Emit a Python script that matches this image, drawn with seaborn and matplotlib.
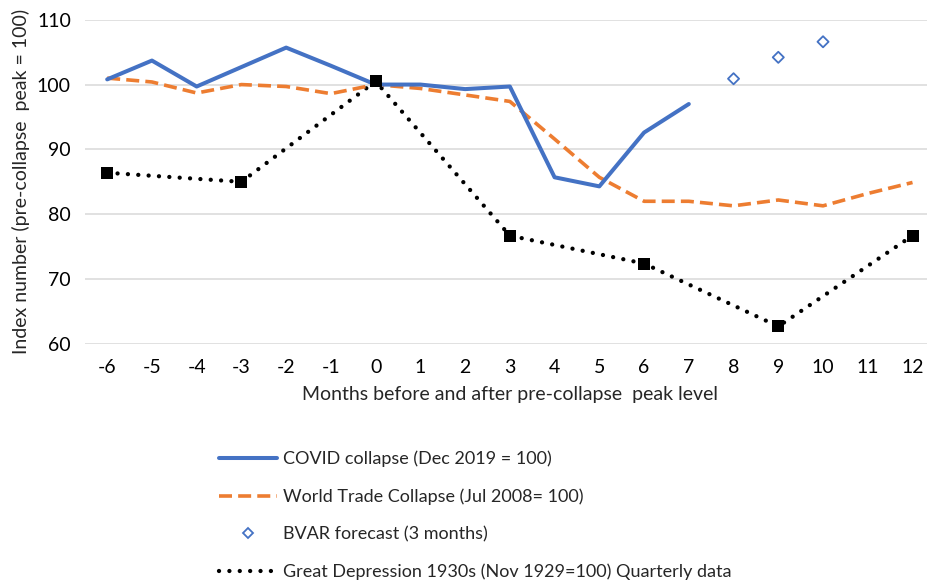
import matplotlib
matplotlib.use("Agg")
import matplotlib.pyplot as plt
import numpy as np
import pandas as pd
import seaborn as sns
from matplotlib.lines import Line2D

# months relative to the pre-collapse peak
months = list(range(-6, 13))
covid_months = list(range(-6, 8))
covid_values = [100.8, 103.7, 99.7, 102.7, 105.7, 102.9, 100.0, 100.0, 99.3, 99.7,
                85.7, 84.3, 92.6, 97.0]
wtc_values = [101.0, 100.4, 98.7, 100.0, 99.7, 98.6, 100.0, 99.4, 98.4, 97.4,
              91.6, 85.7, 82.0, 82.0, 81.3, 82.2, 81.3, 83.2, 84.9]
bvar_months = [8, 9, 10]
bvar_values = [100.9, 104.2, 106.6]
gd_months = [-6, -3, 0, 3, 6, 9, 12]
gd_values = [86.4, 85.0, 100.5, 76.7, 72.4, 62.7, 76.7]

labels = ["COVID collapse (Dec 2019 = 100)",
          "World Trade Collapse (Jul 2008= 100)",
          "BVAR forecast (3 months)",
          "Great Depression 1930s (Nov 1929=100) Quarterly data"]

BLUE = "#4472C4"
ORANGE = "#ED7D31"

sns.set_theme(style="white")
plt.rcParams["font.family"] = ["Lato", "DejaVu Sans"]
FS = 14
LFS = 13

fig = plt.figure(figsize=(9.27, 5.8), dpi=100)
ax = fig.add_axes([0.0915, 0.407, 0.917, 0.559])

covid = pd.DataFrame({"month": covid_months, "value": covid_values})
wtc = pd.DataFrame({"month": months, "value": wtc_values})
bvar = pd.DataFrame({"month": bvar_months, "value": bvar_values})
gd = pd.DataFrame({"month": gd_months, "value": gd_values})

dot_style = (0, (0.01, 2.4))
dash_style = (0, (3.6, 1.7))

sns.lineplot(data=gd, x="month", y="value", ax=ax, color="black", lw=3.1,
             linestyle=dot_style, zorder=2)
ax.lines[-1].set_dash_capstyle("round")
sns.scatterplot(data=gd, x="month", y="value", ax=ax, color="black", marker="s",
                s=75, edgecolor="black", linewidth=0, zorder=5)
sns.lineplot(data=wtc, x="month", y="value", ax=ax, color=ORANGE, lw=2.6,
             linestyle=dash_style, zorder=3)
sns.lineplot(data=covid, x="month", y="value", ax=ax, color=BLUE, lw=2.9, zorder=4)
sns.scatterplot(data=bvar, x="month", y="value", ax=ax, marker="D", s=32,
                facecolor="none", edgecolor=BLUE, linewidth=1.3, zorder=4)

ax.set_xlim(-6.5, 12.5)
ax.set_ylim(60, 110)
ax.set_xticks(months)
ax.set_xticklabels([str(m) for m in months])
ax.set_yticks(range(60, 111, 10))
ax.tick_params(axis="both", length=0, labelsize=FS, colors="black")
ax.tick_params(axis="x", pad=11)
ax.tick_params(axis="y", pad=10)
ax.grid(axis="y", color="#d9d9d9", lw=1.1)
ax.grid(axis="x", visible=False)
for s in ax.spines.values():
    s.set_visible(False)
ax.set_xlabel("Months before and after pre-collapse  peak level", fontsize=FS, labelpad=7)
ax.set_ylabel("Index number (pre-collapse  peak = 100)", fontsize=FS, labelpad=5)

handles = [
    Line2D([], [], color=BLUE, lw=2.9),
    Line2D([], [], color=ORANGE, lw=2.6, linestyle=dash_style),
    Line2D([], [], color=BLUE, lw=0, marker="D", markersize=5.5,
           markerfacecolor="none", markeredgewidth=1.3),
    Line2D([], [], color="black", lw=3.1, linestyle=dot_style, dash_capstyle="round"),
]
fig.legend(handles, labels, loc="upper left", bbox_to_anchor=(0.236, 0.223),
           frameon=False, fontsize=LFS, handlelength=3.25, handletextpad=0.3,
           labelspacing=1.17, borderaxespad=0, borderpad=0)

fig.savefig("out.png", dpi=100)
